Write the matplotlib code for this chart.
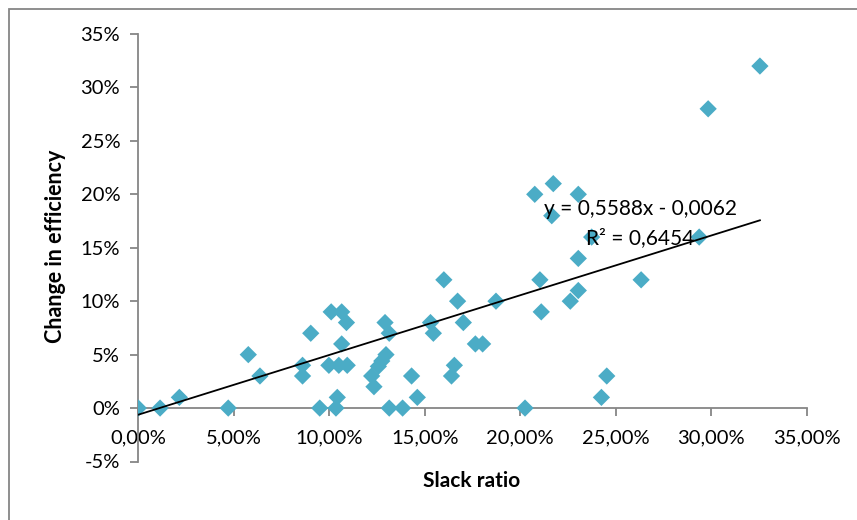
import matplotlib
matplotlib.use("Agg")
import matplotlib.pyplot as plt
import numpy as np
from matplotlib.patches import Rectangle
from matplotlib.ticker import FuncFormatter

plt.rcParams['font.family'] = ['Lato', 'DejaVu Sans']

# Slack ratio (%) and change in efficiency (%)
slack_ratio = [0.0, 1.14, 2.15, 4.71, 5.76, 6.37, 8.6, 8.6, 9.03, 9.5,
               9.98, 10.1, 10.35, 10.42, 10.5, 10.65, 10.65, 10.9, 10.94,
               12.22, 12.34, 12.57, 12.75, 12.92, 12.97, 13.14, 13.14, 13.84,
               14.31, 14.61, 15.3, 15.45, 16.0, 16.4, 16.55, 16.72, 17.02,
               17.65, 18.03, 18.73, 20.25, 20.76, 21.03, 21.1, 21.65, 21.73,
               22.62, 23.04, 23.04, 23.04, 23.74, 24.25, 24.53, 26.33, 29.37,
               29.84, 32.55]
efficiency_change = [0, 0, 1, 0, 5, 3, 4, 3, 7, 0,
                     4, 9, 0, 1, 4, 9, 6, 8, 4,
                     3, 2, 3.9, 4.4, 8, 5, 7, 0, 0,
                     3, 1, 8, 7, 12, 3, 4, 10, 8,
                     6, 6, 10, 0, 20, 12, 9, 18, 21,
                     10, 11, 14, 20, 16, 1, 3, 12, 16,
                     28, 32]

slope, intercept = 0.5588, -0.0062
x_ticks = [0, 5, 10, 15, 20, 25, 30, 35]
y_ticks = [-5, 0, 5, 10, 15, 20, 25, 30, 35]

W, H = 857, 520
fig = plt.figure(figsize=(W / 100, H / 100), dpi=100)
ax = fig.add_axes([138.3 / W, 1 - 461.5 / H, (806.7 - 138.3) / W, (461.5 - 34) / H])

gray = '#868686'
ax.scatter(slack_ratio, efficiency_change, marker='D', s=8.8 ** 2,
           color='#4BACC6', edgecolors='none', zorder=3)

xs = np.array([0, max(slack_ratio)])
ax.plot(xs, (slope * xs / 100 + intercept) * 100, color='black', lw=1.3, zorder=4)

ax.set_xlim(0, 35)
ax.set_ylim(-5, 35)
ax.set_xticks(x_ticks)
ax.set_yticks(y_ticks)
ax.xaxis.set_major_formatter(FuncFormatter(lambda v, p: f"{v:.2f}%".replace('.', ',')))
ax.yaxis.set_major_formatter(FuncFormatter(lambda v, p: f"{v:.0f}%"))

for s in ('top', 'right'):
    ax.spines[s].set_visible(False)
ax.spines['bottom'].set_position(('data', 0))
for s in ('left', 'bottom'):
    ax.spines[s].set_color(gray)
    ax.spines[s].set_linewidth(1.3)
ax.tick_params(axis='both', colors=gray, length=6, width=1.3, labelcolor='black',
               labelsize=14.5)
ax.tick_params(axis='y', pad=7)
ax.tick_params(axis='x', pad=9)

ax.text(640 / W, 1 - 209 / H, 'y = 0,5588x - 0,0062', transform=fig.transFigure,
        ha='center', va='center', fontsize=15, zorder=5)
ax.text(640 / W, 1 - 238 / H, 'R² = 0,6454', transform=fig.transFigure,
        ha='center', va='center', fontsize=15, zorder=5)

fig.text(472 / W, 1 - 481 / H, 'Slack ratio', ha='center', va='center',
         fontsize=15, fontweight='bold')
fig.text(56 / W, 1 - 246 / H, 'Change in efficiency', ha='center', va='center',
         rotation=90, fontsize=15.5, fontweight='bold')

fig.patches.append(Rectangle((9 / W, -0.1), 1.2, 1.1 - 9 / H, transform=fig.transFigure,
                             fill=False, edgecolor=gray, lw=1.3))

fig.savefig('out.png', dpi=100)
